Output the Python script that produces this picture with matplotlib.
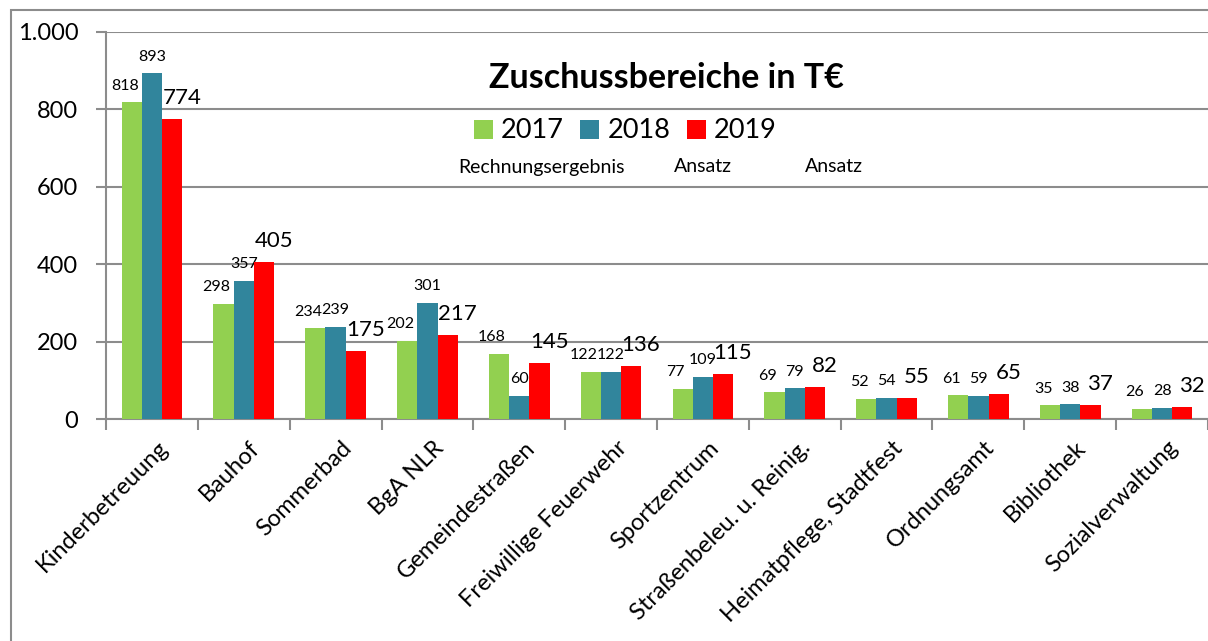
import matplotlib
matplotlib.use("Agg")
import matplotlib.pyplot as plt
import numpy as np
from matplotlib.patches import Rectangle
import matplotlib.transforms as mtransforms

categories = ["Kinderbetreuung", "Bauhof", "Sommerbad", "BgA NLR", "Gemeindestraßen",
              "Freiwillige Feuerwehr", "Sportzentrum", "Straßenbeleu. u. Reinig.",
              "Heimatpflege, Stadtfest", "Ordnungsamt", "Bibliothek", "Sozialverwaltung"]
v2017 = [818, 298, 234, 202, 168, 122, 77, 69, 52, 61, 35, 26]
v2018 = [893, 357, 239, 301, 60, 122, 109, 79, 54, 59, 38, 28]
v2019 = [774, 405, 175, 217, 145, 136, 115, 82, 55, 65, 37, 32]
years = ["2017", "2018", "2019"]
subtitles = ["Rechnungsergebnis", "Ansatz", "Ansatz"]
colors = ["#92D050", "#31859C", "#FF0000"]

plt.rcParams['font.family'] = ['Lato', 'DejaVu Sans']

W, H = 1208, 641
fig = plt.figure(figsize=(W / 100, H / 100), dpi=100)

# outer frame like the Excel chart area
fig.patches.append(Rectangle((11 / W, -0.1), 1.2, 1 - 10 / H + 0.1, transform=fig.transFigure,
                             fill=False, edgecolor="#8c8c8c", linewidth=1.5))

left, right, top, bottom = 106, 1208, 32, 419
ax = fig.add_axes([left / W, 1 - bottom / H, (right - left) / W, (bottom - top) / H])

step = 92.3
x = np.arange(len(categories))
w = 20.3 / step
series = [v2017, v2018, v2019]
xoff = [-5, 0, 7]
yoff = [7, 7, 8]
for i, (vals, c) in enumerate(zip(series, colors)):
    pos = x + (i - 1) * w
    ax.bar(pos, vals, width=w, color=c, label=years[i], zorder=3)
    fs = 16 if i == 2 else 11.5
    for p, v in zip(pos, vals):
        ax.annotate(str(v), (p, v), xytext=(xoff[i], yoff[i]), textcoords="offset points",
                    ha="center", va="bottom", fontsize=fs)

ax.set_xlim(-0.5, -0.5 + (right - left) / step)
ax.set_ylim(0, 1000)
ax.set_yticks(range(0, 1001, 200))
ax.set_yticklabels(["0", "200", "400", "600", "800", "1.000"], fontsize=17)
ax.yaxis.grid(True, color="#8c8c8c", linewidth=1.5, zorder=0)
ax.tick_params(axis="y", length=7, color="#8c8c8c", width=1.5, pad=13)

# category boundary ticks
ax.set_xticks(np.arange(len(categories) + 1) - 0.5, minor=False)
ax.set_xticklabels([])
ax.tick_params(axis="x", length=8, color="#8c8c8c", width=1.5)
ax.set_xticks(x, minor=True)
ax.set_xticklabels(categories, minor=True, rotation=45, ha="right", va="top",
                   rotation_mode="anchor", fontsize=17)
ax.tick_params(axis="x", which="minor", length=0, pad=13)
shift = mtransforms.ScaledTranslation(5 / 100, 0, fig.dpi_scale_trans)
for lbl in ax.get_xticklabels(minor=True):
    lbl.set_transform(lbl.get_transform() + shift)

for s in ["top", "right"]:
    ax.spines[s].set_visible(False)
ax.spines["left"].set_color("#8c8c8c")
ax.spines["bottom"].set_color("#8c8c8c")
ax.spines["left"].set_linewidth(1.5)
ax.spines["bottom"].set_linewidth(1.5)
ax.set_axisbelow(True)

fig.text(666 / W, 1 - 78 / H, "Zuschussbereiche in T€", ha="center", va="center",
         fontsize=24.5, fontweight="bold")
ax.legend(loc="center left", bbox_to_anchor=((474 - left) / (right - left), (bottom - 131) / (bottom - top)),
          ncol=3, frameon=False, fontsize=19.5, handlelength=0.7, handleheight=0.7,
          handletextpad=0.3, columnspacing=0.6, borderpad=0, borderaxespad=0)
for t, xp in zip(subtitles, [542, 703, 834]):
    fig.text(xp / W, 1 - 167 / H, t, ha="center", va="center", fontsize=14)

fig.savefig("out.png", dpi=100)
